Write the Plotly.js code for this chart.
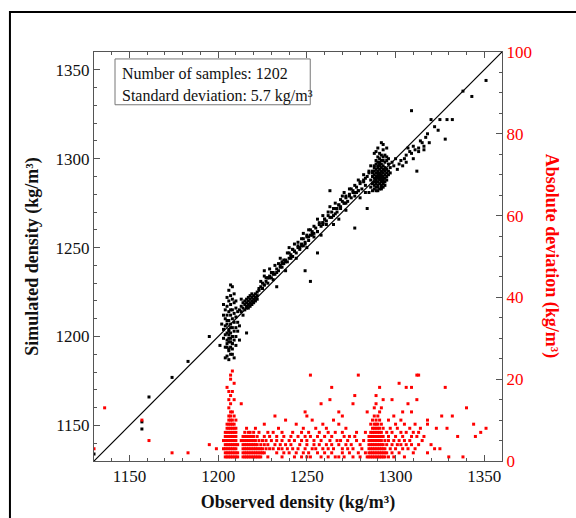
<!DOCTYPE html>
<html>
<head>
<meta charset="utf-8">
<script src="https://cdn.plot.ly/plotly-3.0.1.min.js"></script>
<style>
html,body{margin:0;padding:0;background:#fff;}
#chart{width:576px;height:518px;}
</style>
</head>
<body>
<div id="chart"></div>
<script>
// Observed vs simulated density (kg/m3), black points (hand-read sample)
var obs = [
1130,1157,1157,1161,1174,1183,1195,
1204,1206,1208,1205,1207,1209,1206,1208,1204,1210,1205,1207,1209,1203,1206,1208,1210,1204,1205,1207,1209,1211,1203,1206,1208,1210,1204,1205,1207,1209,1211,1206,1208,1204,1210,1205,1207,1209,1206,1208,1204,1210,1205,1207,1209,1206,1208,1205,1207,1209,1206,1208,1207,1212,1212,1202,1211,1203,1201,1205,1207,1206,1208,1207,1206,1205,1207,1210,1203,1208,1206,1207,1208,1205,1206,
1212,1213,1213,1214,1214,1215,1215,1215,1216,1216,1216,1216,1217,1217,1217,1217,1218,1218,1218,1218,1219,1219,1219,1219,1220,1220,1220,1221,1221,1221,1222,1222,1222,1216,1214,1213,
1223,1224,1225,1225,1226,1227,1228,1228,1229,1230,1231,1232,1233,1234,1235,1236,1236,1237,1238,1239,1240,1240,1241,1242,1243,1244,1245,1245,1246,1247,1248,1248,1249,1250,1251,1252,1252,1253,1254,1255,1256,1257,1258,1259,1260,1261,1262,1263,1264,1265,1266,1267,1268,1269,1270,1270,1271,1272,1273,1274,1275,1275,1276,1277,1278,1279,1280,1281,1282,1283,1284,1265,1268,1272,1258,1250,1244,1238,1231,1277,1280,1283,
1256,1249,1252,1233,1284,1263,1242,1226,1229,1235,1241,1247,1253,1259,1266,1271,1278,
1224,1226,1227,1229,1230,1232,1234,1235,1237,1239,1240,1242,1243,1245,1247,1248,1250,1251,1253,1254,1256,1257,1259,1260,1262,1263,1265,1266,1268,1269,1271,1272,1274,1276,1277,1279,1280,1282,1283,1285,
1223,1226,1228,1231,1233,1236,1238,1241,1243,1246,1249,1251,1254,1256,1259,1261,1264,1267,1269,1272,1274,1277,1279,1282,
1286,1286,1287,1287,1287,1288,1288,1288,1288,1288,1289,1289,1289,1289,1289,1289,1289,1290,1290,1290,1290,1290,1290,1290,1291,1291,1291,1291,1291,1291,1291,1292,1292,1292,1292,1292,1292,1292,1293,1293,1293,1293,1293,1293,1293,1294,1294,1294,1294,1294,1294,1295,1295,1295,1295,1296,1296,1296,1297,1297,1285,1287,1290,1292,1291,1289,1286,1285,1298,1296,1293,1295,1292,1290,1288,
1287,1288,1289,1290,1291,1292,1293,1294,1295,1288,1289,1290,1291,1292,1293,1294,1290,1291,1292,1289,1290,1291,1292,1293,1288,1291,1290,1292,1289,1293,
1299,1300,1302,1303,1304,1305,1306,1307,1308,1309,1310,1310,1311,1312,1313,1314,1315,1316,1317,1318,1319,1320,1322,1325,1329,1332,1328,1324,1338,1343,1351,1309,1293,1295,1313,1301,1306,1316
];
var sim = [
1134,1152,1148,1166,1177,1186,1200,
1188,1187,1190,1189,1190,1188,1192,1193,1194,1195,1196,1197,1198,1199,1199,1200,1200,1201,1202,1202,1203,1203,1204,1204,1205,1205,1206,1207,1207,1208,1208,1209,1210,1210,1211,1212,1212,1213,1214,1215,1215,1216,1217,1218,1219,1220,1221,1222,1223,1224,1226,1228,1229,1198,1206,1207,1214,1212,1195,1194,1194,1197,1196,1205,1201,1209,1215,1220,1218,1196,1193,1199,1200,1198,1203,
1215,1214,1217,1216,1219,1215,1218,1220,1216,1217,1219,1221,1216,1218,1220,1222,1217,1219,1221,1223,1218,1220,1222,1224,1219,1221,1223,1220,1222,1224,1221,1223,1225,1202,1212,1221,
1226,1228,1227,1230,1229,1231,1230,1233,1234,1233,1236,1235,1238,1237,1240,1239,1242,1241,1243,1242,1244,1247,1246,1245,1248,1247,1250,1253,1249,1252,1251,1255,1253,1256,1254,1257,1260,1258,1256,1261,1259,1263,1262,1264,1266,1263,1268,1267,1270,1268,1272,1270,1274,1272,1276,1279,1275,1278,1276,1280,1278,1283,1281,1279,1284,1282,1286,1283,1288,1285,1290,1263,1266,1271,1257,1250,1244,1237,1232,1261,1278,1281,
1247,1237,1231,1228,1272,1282,1249,1237,1233,1239,1245,1251,1257,1263,1269,1275,1281,
1231,1234,1233,1238,1236,1240,1241,1244,1243,1247,1250,1249,1252,1251,1255,1258,1257,1260,1259,1262,1266,1264,1268,1266,1270,1273,1272,1275,1274,1277,1281,1279,1283,1282,1285,1288,1287,1291,1289,1293,
1227,1229,1233,1235,1236,1241,1242,1244,1248,1250,1252,1256,1258,1259,1264,1265,1267,1272,1273,1275,1279,1281,1282,1287,
1284,1288,1286,1290,1293,1285,1287,1289,1291,1295,1284,1286,1288,1290,1292,1294,1297,1285,1287,1289,1291,1293,1295,1298,1286,1288,1290,1292,1294,1296,1300,1285,1287,1289,1291,1293,1295,1297,1286,1288,1290,1292,1294,1296,1299,1287,1289,1291,1293,1295,1302,1288,1290,1292,1294,1291,1293,1297,1292,1295,1281,1282,1282,1283,1303,1304,1296,1292,1298,1300,1305,1301,1309,1306,1303,
1292,1296,1299,1301,1298,1302,1301,1298,1299,1283,1282,1284,1283,1284,1284,1285,1296,1297,1299,1289,1292,1289,1288,1289,1293,1291,1290,1290,1287,1287,
1296,1300,1297,1299,1296,1300,1298,1306,1304,1303,1307,1300,1305,1293,1306,1310,1309,1307,1312,1314,1309,1322,1318,1322,1322,1322,1311,1316,1338,1335,1344,1327,1308,1306,1304,1294,1302,1305
];

// Absolute deviation (kg/m3), red points on the right axis (hand-read sample)
var devObs = [
1130,1136,1157,1161,1174,1183,1195,1199,
1204,1205,1206,1207,1208,1209,1210,1211,1214,1215,1216,1217,1218,1219,1220,1221,1222,1223,1224,1228,1236,1243,1247,1250,1252,1258,1262,1266,1268,1271,1276,1280,1284,1285,1286,1287,1288,1289,1290,1291,1292,1293,1294,1296,1299,1305,1330,1338,
1204,1205,1206,1207,1208,1209,1210,1211,1214,1215,1216,1217,1218,1219,1220,1221,1222,1223,1224,1225,1226,1233,1237,1240,1244,1248,1251,1256,1260,1264,1270,1274,1279,1283,1285,1286,1287,1288,1289,1290,1291,1292,1293,1294,1295,1298,1302,1310,1318,
1203,1204,1205,1206,1207,1208,1209,1210,1214,1215,1216,1217,1218,1219,1220,1221,1222,1223,1224,1225,1227,1229,1231,1234,1236,1239,1242,1245,1249,1253,1255,1259,1262,1265,1270,1273,1276,1281,1285,1286,1287,1288,1289,1290,1291,1292,1293,1294,1297,1300,1304,1307,1311,1322,1325,
1204,1205,1206,1207,1208,1209,1210,1211,1214,1215,1216,1217,1218,1219,1220,1221,1222,1224,1226,1228,1232,1235,1238,1241,1246,1250,1254,1257,1261,1264,1268,1272,1275,1280,1285,1286,1287,1288,1289,1290,1291,1292,1293,1295,1298,1301,1303,1306,1309,1313,1320,
1203,1204,1205,1206,1207,1208,1209,1210,1213,1214,1215,1216,1217,1218,1219,1220,1221,1223,1225,1227,1230,1233,1236,1240,1243,1247,1250,1254,1258,1263,1267,1269,1273,1278,1282,1285,1286,1287,1288,1289,1290,1291,1292,1294,1296,1299,1302,1305,1308,1315,
1204,1205,1206,1207,1208,1209,1210,1214,1215,1216,1217,1218,1219,1220,1222,1226,1229,1233,1237,1241,1245,1249,1252,1256,1260,1264,1271,1274,1277,1285,1286,1287,1288,1289,1290,1291,1292,1293,1296,1300,1304,1309,1312,1316,1335,1345,
1204,1205,1206,1207,1208,1209,1210,1215,1217,1218,1220,1223,1228,1231,1236,1242,1247,1251,1257,1262,1266,1270,1278,1283,1286,1287,1288,1289,1290,1291,1292,1295,1298,1303,1306,1310,1313,1348,
1205,1206,1207,1208,1209,1210,1216,1221,1234,1248,1255,1261,1272,1287,1288,1289,1290,1291,1293,1297,1301,1308,1314,1323,1329,1351,
1205,1206,1207,1208,1209,1226,1244,1259,1268,1286,1288,1289,1290,1292,1300,1305,1311,1318,1344,
1206,1207,1208,1210,1238,1253,1265,1287,1289,1291,1296,1303,1318,
1206,1207,1209,1232,1250,1270,1288,1290,1299,1326,1332,
1207,1208,1249,1268,1284,1291,1304,1309,
1206,1288,1292,1340,
1207,1213,1258,1276,1289,1307,
1206,1209,1263,1293,1298,1312,
1207,1277,1289,
1206,1208,
1205,1264,1291,1306,1309,1328,
1209,1302,
1207,
1207,1252,1279,1312,1313,
1208
];
var devVal = [
3,13,10,5,2,2,4,3,
1,1,1,1,1,1,1,1,1,1,1,1,1,1,1,1,1,1,1,1,1,1,1,1,1,1,1,1,1,1,1,1,1,1,1,1,1,1,1,1,1,1,1,1,1,1,1,1,
2,2,2,2,2,2,2,2,2,2,2,2,2,2,2,2,2,2,2,2,2,2,2,2,2,2,2,2,2,2,2,2,2,2,2,2,2,2,2,2,2,2,2,2,2,2,2,2,2,
3,3,3,3,3,3,3,3,3,3,3,3,3,3,3,3,3,3,3,3,3,3,3,3,3,3,3,3,3,3,3,3,3,3,3,3,3,3,3,3,3,3,3,3,3,3,3,3,3,3,3,3,3,3,3,
4,4,4,4,4,4,4,4,4,4,4,4,4,4,4,4,4,4,4,4,4,4,4,4,4,4,4,4,4,4,4,4,4,4,4,4,4,4,4,4,4,4,4,4,4,4,4,4,4,4,4,
5,5,5,5,5,5,5,5,5,5,5,5,5,5,5,5,5,5,5,5,5,5,5,5,5,5,5,5,5,5,5,5,5,5,5,5,5,5,5,5,5,5,5,5,5,5,5,5,5,5,
6,6,6,6,6,6,6,6,6,6,6,6,6,6,6,6,6,6,6,6,6,6,6,6,6,6,6,6,6,6,6,6,6,6,6,6,6,6,6,6,6,6,6,6,6,6,
7,7,7,7,7,7,7,7,7,7,7,7,7,7,7,7,7,7,7,7,7,7,7,7,7,7,7,7,7,7,7,7,7,7,7,7,7,7,
8,8,8,8,8,8,8,8,8,8,8,8,8,8,8,8,8,8,8,8,8,8,8,8,8,8,
9,9,9,9,9,9,9,9,9,9,9,9,9,9,9,9,9,9,9,
10,10,10,10,10,10,10,10,10,10,10,10,10,
11,11,11,11,11,11,11,11,11,11,11,
12,12,12,12,12,12,12,12,
13,13,13,13,
14,14,14,14,14,14,
15,15,15,15,15,15,
16,16,16,
17,17,
18,18,18,18,18,18,
19,19,
20,
21,21,21,21,21,
22
];

// 1:1 reference line end points and axis ranges
var oneToOne = [1130, 1360];
var densityRange = [1130, 1360];
var deviationRange = [0, 100];
var statsLines = ["Number of samples: 1202", "Standard deviation: 5.7 kg/m³"];

var serif = "Liberation Serif, Times New Roman, serif";
var tickSize = 17, titleSize = 18, boxSize = 16;

var traces = [
  {x: oneToOne, y: oneToOne, mode: "lines", line: {color: "#000", width: 1.2}, hoverinfo: "skip", showlegend: false},
  {x: obs, y: sim, mode: "markers", type: "scatter",
   marker: {color: "#000", size: 3, symbol: "square"}, showlegend: false},
  {x: devObs, y: devVal, yaxis: "y2", mode: "markers", type: "scatter",
   marker: {color: "#ff0000", size: 3, symbol: "square"}, showlegend: false}
];

var axisCommon = {
  showgrid: false, zeroline: false, showline: true, linecolor: "#555", linewidth: 1,
  ticks: "inside", ticklen: 6, tickcolor: "#555", tickwidth: 1,
  tickfont: {family: serif, size: tickSize, color: "#111"}
};

var layout = {
  width: 576, height: 518,
  margin: {l: 94, r: 74, t: 52, b: 57},
  paper_bgcolor: "#fff", plot_bgcolor: "#fff",
  xaxis: Object.assign({}, axisCommon, {
    range: densityRange, dtick: 50, tick0: 1150, mirror: "ticks",
    minor: {dtick: 10, ticks: "inside", ticklen: 3, tickcolor: "#555"},
    title: {text: "<b>Observed density (kg/m³)</b>", font: {family: serif, size: titleSize, color: "#111"}, standoff: 9}
  }),
  yaxis: Object.assign({}, axisCommon, {
    range: densityRange, dtick: 50, tick0: 1150,
    minor: {dtick: 10, ticks: "inside", ticklen: 3, tickcolor: "#555"},
    title: {text: "<b>Simulated density (kg/m³)</b>", font: {family: serif, size: titleSize, color: "#111"}, standoff: 12}
  }),
  yaxis2: Object.assign({}, axisCommon, {
    overlaying: "y", side: "right", range: deviationRange, dtick: 20,
    tickfont: {family: serif, size: tickSize, color: "#ff0000"},
    minor: {dtick: 5, ticks: "inside", ticklen: 3, tickcolor: "#555"}
  }),
  annotations: [
    {xref: "paper", yref: "paper", x: 0.064, y: 0.947, xanchor: "left", yanchor: "middle",
     text: statsLines[0], align: "left", showarrow: false,
     font: {family: serif, size: boxSize, color: "#111"}},
    {xref: "paper", yref: "paper", x: 0.064, y: 0.893, xanchor: "left", yanchor: "middle",
     text: statsLines[1], align: "left", showarrow: false,
     font: {family: serif, size: boxSize, color: "#111"}},
    {xref: "paper", yref: "paper", x: 1.12, y: 0.502, xanchor: "center", yanchor: "middle",
     text: "<b>Absolute deviation (kg/m³)</b>", textangle: 90, showarrow: false,
     font: {family: serif, size: titleSize, color: "#ff0000"}}
  ],
  shapes: [
    {type: "rect", xref: "paper", yref: "paper", x0: 0.0515, x1: 0.53, y0: 0.871, y1: 0.983,
     line: {color: "#777", width: 1}, fillcolor: "#fff", layer: "below"},
    {type: "rect", xref: "paper", yref: "paper", x0: -0.206, x1: 1.6, y0: -0.4, y1: 1.098,
     line: {color: "#000", width: 2}, fillcolor: "rgba(0,0,0,0)", layer: "above"}
  ]
};

Plotly.newPlot("chart", traces, layout, {staticPlot: true, displayModeBar: false});
</script>
</body>
</html>
